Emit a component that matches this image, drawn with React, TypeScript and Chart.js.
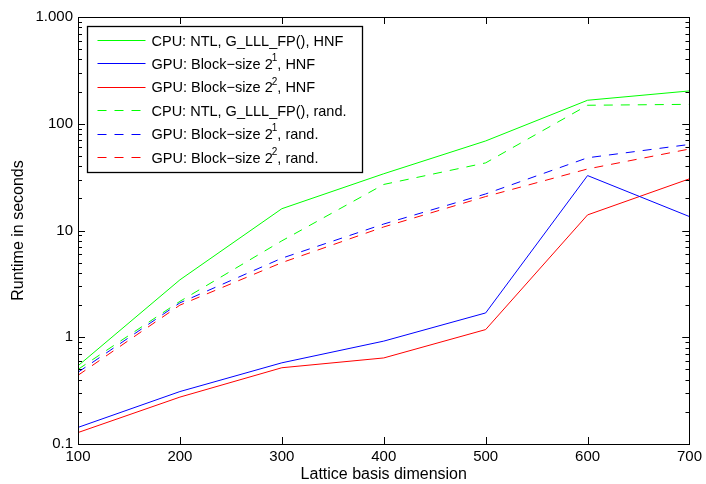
import React, { useEffect, useRef } from "react";
import { Chart, registerables } from "chart.js";

Chart.register(...registerables);

const dims = [100, 200, 300, 400, 500, 600, 700];
const cpuHnf = [0.54, 3.45, 16, 34, 69, 166, 203];
const gpu1Hnf = [0.143, 0.31, 0.576, 0.92, 1.69, 32.7, 13.5];
const gpu2Hnf = [0.128, 0.275, 0.518, 0.64, 1.18, 14, 30.5];
const cpuRand = [0.5, 2.17, 8.0, 27, 43, 149, 152];
const gpu1Rand = [0.47, 2.1, 5.5, 11.5, 22, 48, 64];
const gpu2Rand = [0.44, 2.0, 5.0, 10.8, 20.8, 37.7, 58];

const seriesLabels = [
  "CPU: NTL, G_LLL_FP(), HNF",
  "GPU: Block\u2212size 2^1, HNF",
  "GPU: Block\u2212size 2^2, HNF",
  "CPU: NTL, G_LLL_FP(), rand.",
  "GPU: Block\u2212size 2^1, rand.",
  "GPU: Block\u2212size 2^2, rand.",
];

const xTickValues = [100, 200, 300, 400, 500, 600, 700];
const yTickValues = [0.1, 1, 10, 100, 1000];
const yTickLabels = ["0.1", "1", "10", "100", "1.000"];

const xTitle = "Lattice basis dimension";
const yTitle = "Runtime in seconds";

const FONT = "'Liberation Sans', Arial, Helvetica, sans-serif";
const GREEN = "#00ff00";
const BLUE = "#0000ff";
const RED = "#ff0000";

const framePlugin = {
  id: "frameTicks",
  afterDraw(chart: any) {
    const { ctx, chartArea } = chart;
    const { left, right, top, bottom } = chartArea;
    const xs = chart.scales.x;
    const ys = chart.scales.y;
    ctx.save();
    ctx.strokeStyle = "#000";
    ctx.lineWidth = 1;
    ctx.beginPath();
    for (const v of xTickValues) {
      const px = Math.round(xs.getPixelForValue(v)) + 0.5;
      ctx.moveTo(px, bottom);
      ctx.lineTo(px, bottom - 7);
      ctx.moveTo(px, top);
      ctx.lineTo(px, top + 7);
    }
    for (let d = 0.1; d < 999; d *= 10) {
      for (let k = 1; k <= 10; k++) {
        const v = d * k;
        const py = Math.round(ys.getPixelForValue(v)) + 0.5;
        const len = k === 1 || k === 10 ? 7 : 4;
        ctx.moveTo(left, py);
        ctx.lineTo(left + len, py);
        ctx.moveTo(right, py);
        ctx.lineTo(right - len, py);
      }
    }
    ctx.stroke();
    ctx.strokeRect(Math.round(left) + 0.5, Math.round(top) + 0.5, Math.round(right - left), Math.round(bottom - top));

    // legend
    const bx = Math.round(left) + 9 + 0.5;
    const by = Math.round(top) + 9 + 0.5;
    const bw = 275;
    const bh = 146;
    ctx.fillStyle = "#fff";
    ctx.fillRect(bx, by, bw, bh);
    ctx.strokeStyle = "#000";
    ctx.lineWidth = 1.3;
    ctx.strokeRect(bx, by, bw, bh);
    const datasets = chart.data.datasets;
    datasets.forEach((ds: any, i: number) => {
      const cy = by + 13.5 + i * 23.4;
      ctx.strokeStyle = ds.borderColor;
      ctx.lineWidth = 1;
      ctx.setLineDash(ds.borderDash || []);
      ctx.beginPath();
      ctx.moveTo(bx + 10, Math.round(cy) + 0.5);
      ctx.lineTo(bx + 58, Math.round(cy) + 0.5);
      ctx.stroke();
      ctx.setLineDash([]);
      ctx.fillStyle = "#000";
      ctx.textBaseline = "middle";
      ctx.textAlign = "left";
      const parts = String(ds.label).split(/\^(\d)/);
      let tx = bx + 64;
      parts.forEach((p: string, j: number) => {
        if (j % 2 === 1) {
          ctx.font = `10px ${FONT}`;
          ctx.fillText(p, tx - 1, cy - 5);
          tx += ctx.measureText(p).width - 1;
        } else {
          ctx.font = `14.5px ${FONT}`;
          ctx.fillText(p, tx, cy + 1.5);
          tx += ctx.measureText(p).width;
        }
      });
    });
    ctx.restore();
  },
};

export default function App() {
  const ref = useRef<HTMLCanvasElement | null>(null);
  useEffect(() => {
    if (!ref.current) return;
    const mk = (i: number, data: number[], color: string, dashed: boolean) => ({
      label: seriesLabels[i],
      data: dims.map((x, j) => ({ x, y: data[j] })),
      borderColor: color,
      backgroundColor: color,
      borderWidth: 1,
      borderDash: dashed ? [9, 8] : [],
      pointRadius: 0,
      tension: 0,
      fill: false,
    });
    const chart = new Chart(ref.current, {
      type: "line",
      data: {
        datasets: [
          mk(0, cpuHnf, GREEN, false),
          mk(1, gpu1Hnf, BLUE, false),
          mk(2, gpu2Hnf, RED, false),
          mk(3, cpuRand, GREEN, true),
          mk(4, gpu1Rand, BLUE, true),
          mk(5, gpu2Rand, RED, true),
        ],
      },
      options: {
        animation: false,
        responsive: false,
        maintainAspectRatio: false,
        layout: { padding: { top: 17, right: 15, left: 0, bottom: 0 } },
        plugins: { legend: { display: false }, tooltip: { enabled: false } },
        scales: {
          x: {
            type: "linear",
            min: 100,
            max: 700,
            grid: { display: false, drawTicks: false },
            border: { display: false },
            afterBuildTicks: (s: any) => {
              s.ticks = xTickValues.map((v) => ({ value: v }));
            },
            afterFit: (s: any) => {
              s.height = 40;
            },
            ticks: {
              color: "#000",
              font: { family: FONT, size: 15 },
              padding: 4,
              maxRotation: 0,
              callback: (v: any) => String(v),
            },
            title: {
              display: true,
              text: xTitle,
              color: "#000",
              font: { family: FONT, size: 16 },
              padding: { top: 0, bottom: 0 },
            },
          },
          y: {
            type: "logarithmic",
            min: 0.1,
            max: 1000,
            grid: { display: false, drawTicks: false },
            border: { display: false },
            afterBuildTicks: (s: any) => {
              s.ticks = yTickValues.map((v) => ({ value: v }));
            },
            afterFit: (s: any) => {
              s.width = 78;
            },
            ticks: {
              color: "#000",
              font: { family: FONT, size: 15 },
              padding: 5,
              callback: (v: any) => {
                const idx = yTickValues.findIndex((t) => Math.abs(t - v) < 1e-9 * Math.max(1, v));
                return idx >= 0 ? yTickLabels[idx] : "";
              },
            },
            title: {
              display: true,
              text: yTitle,
              color: "#000",
              font: { family: FONT, size: 16 },
              padding: { top: 9, bottom: 0 },
            },
          },
        },
      },
      plugins: [framePlugin],
    });
    return () => chart.destroy();
  }, []);
  return (
    <div style={{ position: "fixed", left: 0, top: 0, width: 706, height: 484, background: "#fff" }}>
      <canvas ref={ref} width={706} height={484} style={{ display: "block" }} />
    </div>
  );
}
